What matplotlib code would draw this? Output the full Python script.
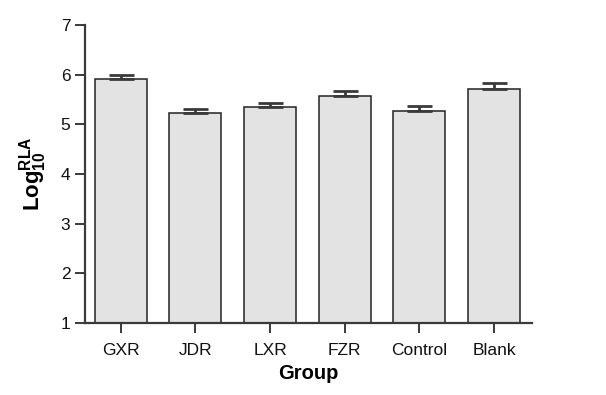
import matplotlib.pyplot as plt
import numpy as np

plt.rcParams['font.family'] = ['Liberation Sans', 'DejaVu Sans']
plt.rcParams['mathtext.fontset'] = 'custom'
plt.rcParams['mathtext.rm'] = 'Liberation Sans'
plt.rcParams['mathtext.bf'] = 'Liberation Sans:bold'

groups = ['GXR', 'JDR', 'LXR', 'FZR', 'Control', 'Blank']
means = [5.92, 5.22, 5.35, 5.57, 5.27, 5.72]
errs = [0.08, 0.08, 0.08, 0.10, 0.10, 0.11]

axis_col = '#3a3a3a'

fig = plt.figure(figsize=(6.06, 3.95), dpi=100)
ax = fig.add_axes([0.140, 0.182, 0.738, 0.755])

x = np.arange(len(groups))
# bars start at the axis floor (y = 1)
ax.bar(x, np.array(means) - 1, bottom=1, width=0.7, color='#e3e3e3',
       edgecolor='#222222', linewidth=1.1, zorder=2)
ax.errorbar(x, means, yerr=[np.zeros(len(errs)), errs], fmt='none',
            ecolor=axis_col, elinewidth=2, capsize=9, capthick=2, zorder=3)

ax.set_xlim(-0.48, 5.51)
ax.set_ylim(1, 7)
ax.set_yticks(range(1, 8))
ax.set_xticks(x)
ax.set_xticklabels(groups)

for side in ['top', 'right']:
    ax.spines[side].set_visible(False)
for side in ['left', 'bottom']:
    ax.spines[side].set_color(axis_col)
    ax.spines[side].set_linewidth(1.6)

ax.tick_params(axis='both', colors=axis_col, width=1.4, length=7,
               labelsize=12.5, labelcolor='#111111')
ax.tick_params(axis='x', pad=7)

ax.set_xlabel('Group', fontsize=14.5, fontweight='bold', labelpad=5)
ax.set_ylabel(r'$\mathbf{Log}_{\mathbf{10}}^{\mathbf{RLA}}$', fontsize=16,
              labelpad=8)

plt.savefig('out.png', dpi=100)
